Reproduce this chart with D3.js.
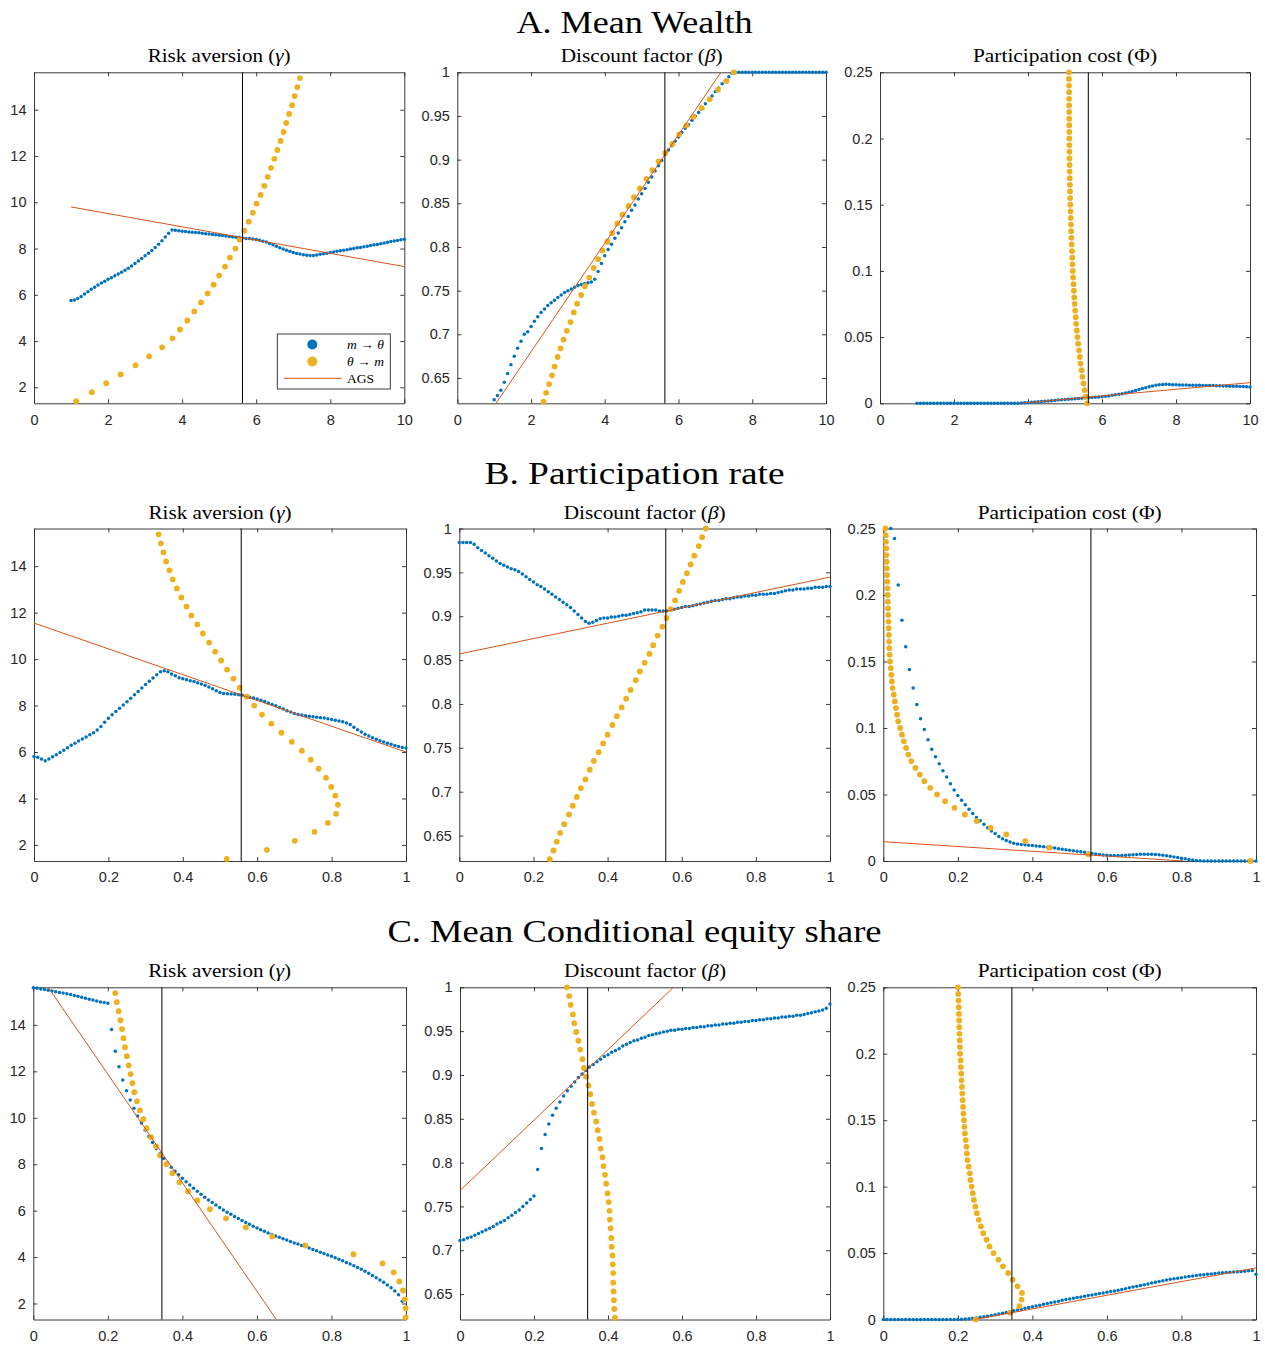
<!DOCTYPE html>
<html>
<head>
<meta charset="utf-8">
<script src="https://cdn.jsdelivr.net/npm/d3@7/dist/d3.min.js"></script>
<style>
  body { margin: 0; background: #fff; }
  svg { display: block; }
</style>
</head>
<body>
<svg id="fig" width="1265" height="1345"></svg>
<script>
// ---------- grids ----------
const gridTen = [
  1.000,1.091,1.182,1.273,1.364,1.455,1.545,1.636,1.727,1.818,1.909,
  2.000,2.091,2.182,2.273,2.364,2.455,2.545,2.636,2.727,2.818,2.909,
  3.000,3.091,3.182,3.273,3.364,3.455,3.545,3.636,3.727,3.818,3.909,
  4.000,4.091,4.182,4.273,4.364,4.455,4.545,4.636,4.727,4.818,4.909,
  5.000,5.091,5.182,5.273,5.364,5.455,5.545,5.636,5.727,5.818,5.909,
  6.000,6.091,6.182,6.273,6.364,6.455,6.545,6.636,6.727,6.818,6.909,
  7.000,7.091,7.182,7.273,7.364,7.455,7.545,7.636,7.727,7.818,7.909,
  8.000,8.091,8.182,8.273,8.364,8.455,8.545,8.636,8.727,8.818,8.909,
  9.000,9.091,9.182,9.273,9.364,9.455,9.545,9.636,9.727,9.818,9.909,
  10.000
];
const gridUnit = [
  0.00,0.01,0.02,0.03,0.04,0.05,0.06,0.07,0.08,0.09,
  0.10,0.11,0.12,0.13,0.14,0.15,0.16,0.17,0.18,0.19,
  0.20,0.21,0.22,0.23,0.24,0.25,0.26,0.27,0.28,0.29,
  0.30,0.31,0.32,0.33,0.34,0.35,0.36,0.37,0.38,0.39,
  0.40,0.41,0.42,0.43,0.44,0.45,0.46,0.47,0.48,0.49,
  0.50,0.51,0.52,0.53,0.54,0.55,0.56,0.57,0.58,0.59,
  0.60,0.61,0.62,0.63,0.64,0.65,0.66,0.67,0.68,0.69,
  0.70,0.71,0.72,0.73,0.74,0.75,0.76,0.77,0.78,0.79,
  0.80,0.81,0.82,0.83,0.84,0.85,0.86,0.87,0.88,0.89,
  0.90,0.91,0.92,0.93,0.94,0.95,0.96,0.97,0.98,0.99,
  1.00
];
const gammaGrid = [1.40,1.79,2.18,2.56,2.95,3.34,3.73,4.12,4.50,4.89,5.28,5.67,6.06,6.44,6.83,7.22,7.61,8.00,8.38,8.77,
  9.16,9.55,9.94,10.32,10.71,11.10,11.49,11.88,12.26,12.65,13.04,13.43,13.82,14.20,14.59,14.98,15.37];
const betaGrid = [0.623,0.633,0.643,0.653,0.663,0.674,0.684,0.694,0.704,0.714,0.725,0.735,0.745,0.755,0.765,0.776,0.786,
  0.796,0.806,0.816,0.827,0.837,0.847,0.857,0.867,0.878,0.888,0.898,0.908,0.918,0.929,0.939,0.949,0.959,0.969,0.980,0.990,1.000];
const phiGrid = [0,0.005,0.010,0.015,0.020,0.025,0.030,0.035,0.040,0.045,0.050,0.055,0.060,0.065,0.070,0.075,0.080,0.085,
  0.090,0.095,0.100,0.105,0.110,0.115,0.120,0.125,0.130,0.135,0.140,0.145,0.150,0.155,0.160,0.165,0.170,0.175,0.180,0.185,
  0.190,0.195,0.200,0.205,0.210,0.215,0.220,0.225,0.230,0.235,0.240,0.245,0.250];

// ---------- A. Mean wealth ----------
const wealthGammaBlue = [
  5.75,5.78,5.84,5.93,6.03,6.13,6.24,6.33,6.42,6.51,
  6.59,6.67,6.74,6.82,6.90,6.98,7.06,7.15,7.25,7.35,
  7.46,7.57,7.69,7.80,7.92,8.05,8.19,8.34,8.50,8.66,
  8.80,8.79,8.77,8.75,8.74,8.72,8.71,8.69,8.68,8.66,
  8.64,8.63,8.61,8.60,8.58,8.56,8.54,8.52,8.50,8.49,
  8.48,8.46,8.44,8.43,8.41,8.39,8.36,8.32,8.28,8.22,
  8.16,8.10,8.04,7.98,7.93,7.88,7.83,7.79,7.76,7.73,
  7.71,7.70,7.70,7.72,7.75,7.78,7.80,7.83,7.85,7.88,
  7.90,7.93,7.95,7.98,8.00,8.03,8.05,8.08,8.10,8.13,
  8.16,8.18,8.21,8.24,8.27,8.30,8.33,8.35,8.38,8.40
];
const wealthGammaYellow = [1.14,1.56,1.95,2.34,2.74,3.11,3.46,3.74,3.94,4.14,4.33,4.51,4.69,4.85,5.00,5.16,5.29,5.44,5.55,
  5.68,5.80,5.91,6.01,6.12,6.22,6.31,6.40,6.49,6.57,6.66,6.74,6.81,6.89,6.97,7.04,7.11,7.18];
const wealthGammaAGS = [[1.0, 9.80], [10.0, 7.22]];

const wealthBetaBlue = [
  0.625,0.630,0.636,0.645,0.655,0.665,0.675,0.684,0.692,0.700,
  0.703,0.709,0.715,0.720,0.725,0.729,0.733,0.736,0.739,0.742,
  0.745,0.748,0.750,0.752,0.754,0.756,0.757,0.758,0.759,0.760,
  0.763,0.772,0.781,0.790,0.797,0.803,0.810,0.816,0.822,0.829,
  0.835,0.842,0.848,0.855,0.861,0.867,0.874,0.880,0.887,0.893,
  0.899,0.906,0.911,0.916,0.921,0.926,0.931,0.936,0.940,0.945,
  0.950,0.954,0.959,0.964,0.969,0.973,0.978,0.982,0.987,0.991,
  0.995,0.999,1,1,1,1,1,1,1,1,
  1,1,1,1,1,1,1,1,1,1,
  1,1,1,1,1,1,1,1,1,1
];
const wealthBetaYellow = [2.34,2.41,2.49,2.57,2.64,2.72,2.80,2.88,2.97,3.07,3.16,3.25,3.36,3.46,3.58,3.70,3.82,3.94,4.07,
  4.20,4.34,4.48,4.64,4.79,4.95,5.13,5.29,5.46,5.64,5.83,6.02,6.21,6.41,6.63,6.84,7.07,7.30,7.50];
const wealthBetaAGS = [[1.05, 0.621], [7.15, 1.0]];

const wealthPhiBlue = [
  0,0,0,0,0,0,0,0,0,0,
  0,0,0,0,0,0,0,0,0,0,
  0,0,0,0,0,0,0,0,0,0,
  0,0.0002,0.0004,0.0006,0.0008,0.0010,0.0012,0.0014,0.0016,0.0018,
  0.0020,0.0022,0.0024,0.0026,0.0028,0.0030,0.0032,0.0034,0.0036,0.0038,
  0.0040,0.0042,0.0044,0.0046,0.0048,0.0050,0.0053,0.0056,0.0060,0.0064,
  0.0068,0.0073,0.0078,0.0084,0.0090,0.0097,0.0104,0.0111,0.0118,0.0125,
  0.0131,0.0136,0.0140,0.0142,0.0143,0.0142,0.0141,0.0140,0.0139,0.0139,
  0.0138,0.0137,0.0137,0.0136,0.0136,0.0135,0.0135,0.0134,0.0134,0.0133,
  0.0132,0.0131,0.0130,0.0129,0.0128,0.0128,0.0127,0.0126,0.0125,0.0124
];
const wealthPhiYellow = [5.60,5.56,5.53,5.50,5.47,5.45,5.42,5.40,5.38,5.355,5.335,5.32,5.30,5.29,5.275,5.26,5.25,5.24,5.23,5.22,
  5.21,5.20,5.195,5.19,5.18,5.173,5.167,5.161,5.155,5.149,5.144,5.140,5.136,5.132,5.129,5.126,5.124,5.122,5.120,5.118,
  5.117,5.116,5.115,5.114,5.113,5.112,5.111,5.110,5.109,5.108,5.108];
const wealthPhiAGS = [[3.78, 0], [10.0, 0.0156]];

// ---------- B. Participation rate ----------
const partGammaBlue = [
  5.81,5.78,5.70,5.62,5.70,5.80,5.88,5.98,6.08,6.18,
  6.29,6.38,6.47,6.56,6.65,6.74,6.83,6.95,7.10,7.28,
  7.45,7.60,7.74,7.88,8.02,8.16,8.31,8.46,8.61,8.76,
  8.91,9.05,9.19,9.33,9.45,9.50,9.45,9.36,9.28,9.20,
  9.15,9.11,9.07,9.03,8.98,8.93,8.87,8.80,8.72,8.64,
  8.56,8.52,8.51,8.50,8.49,8.47,8.44,8.40,8.36,8.32,
  8.28,8.23,8.17,8.11,8.05,7.99,7.92,7.85,7.78,7.72,
  7.66,7.62,7.59,7.56,7.54,7.52,7.50,7.48,7.46,7.43,
  7.40,7.37,7.34,7.30,7.25,7.18,7.07,6.96,6.86,6.77,
  6.69,6.61,6.55,6.49,6.43,6.38,6.33,6.28,6.24,6.20,
  6.17
];
const partGammaYellow = [0.518,0.626,0.701,0.754,0.790,0.812,0.817,0.810,0.799,0.785,0.765,0.744,0.720,0.693,0.665,0.638,
  0.613,0.592,0.572,0.553,0.536,0.519,0.503,0.487,0.471,0.454,0.439,0.423,0.410,0.396,0.384,0.373,0.364,0.355,0.348,0.341,0.335];
const partGammaAGS = [[0, 11.55], [1, 6.00]];

const partBetaBlue = [
  0.984,0.984,0.984,0.984,0.982,0.978,0.975,0.972,0.969,0.966,
  0.963,0.960,0.958,0.956,0.954,0.953,0.951,0.948,0.945,0.942,
  0.939,0.936,0.934,0.931,0.928,0.925,0.922,0.919,0.916,0.913,
  0.910,0.906,0.902,0.898,0.894,0.892,0.893,0.895,0.897,0.898,
  0.898,0.899,0.899,0.900,0.901,0.901,0.902,0.903,0.904,0.905,
  0.907,0.907,0.907,0.907,0.906,0.906,0.906,0.907,0.908,0.909,
  0.910,0.911,0.911,0.912,0.913,0.914,0.915,0.916,0.917,0.918,
  0.918,0.919,0.920,0.920,0.921,0.922,0.922,0.923,0.923,0.924,
  0.924,0.925,0.925,0.925,0.926,0.926,0.927,0.928,0.929,0.930,
  0.930,0.931,0.931,0.931,0.932,0.932,0.933,0.933,0.933,0.934,
  0.934
];
const partBetaYellow = [0.244,0.254,0.263,0.272,0.283,0.296,0.306,0.317,0.328,0.340,0.352,0.363,0.376,0.388,0.400,0.413,
  0.425,0.438,0.450,0.462,0.476,0.487,0.500,0.513,0.523,0.535,0.548,0.559,0.570,0.582,0.593,0.603,0.614,0.624,0.634,0.646,0.655,0.665];
const partBetaAGS = [[0, 0.857], [1, 0.9446]];

const partPhiBlue = [
  null,null,0.250,0.2425,0.2075,0.181,0.161,0.144,0.130,0.1176,
  0.107,0.0989,0.0911,0.0841,0.0784,0.0731,0.0679,0.0631,0.0581,0.0533,
  0.0493,0.0456,0.0423,0.0390,0.0358,0.0328,0.0303,0.0276,0.0250,0.0225,
  0.0206,0.0185,0.0168,0.0155,0.0143,0.0133,0.0128,0.0125,0.0122,0.0119,
  0.0116,0.0113,0.0110,0.0107,0.0104,0.0100,0.0097,0.0093,0.0089,0.0085,
  0.0081,0.0077,0.0073,0.0069,0.0065,0.0061,0.0057,0.0053,0.0049,0.0046,
  0.0044,0.0042,0.0041,0.0041,0.0042,0.0043,0.0045,0.0047,0.0049,0.0050,
  0.0051,0.0051,0.0050,0.0049,0.0047,0.0044,0.0040,0.0036,0.0031,0.0026,
  0.0021,0.0016,0.0011,0.0007,0.0003,0.0001,0,0,0,0,
  0,0,0,0,0,0,0,0,0,0,
  0
];
const partPhiYellow = [0.985,0.550,0.445,0.381,0.330,0.288,0.251,0.219,0.191,0.166,0.144,0.126,0.110,0.098,0.086,0.075,
  0.067,0.061,0.055,0.050,0.045,0.040,0.037,0.034,0.031,0.028,0.025,0.023,0.0215,0.020,0.018,0.017,0.016,0.0155,0.0150,
  0.0144,0.0138,0.0133,0.0127,0.0122,0.0117,0.0112,0.0106,0.0101,0.0096,0.0090,0.0084,0.0078,0.0072,0.0065,0.0055];
const partPhiAGS = [[0, 0.0145], [0.805, 0]];

// ---------- C. Mean conditional equity share ----------
const shareGammaBlue = [
  15.60,15.58,15.55,15.52,15.49,15.46,15.43,15.40,15.37,15.34,
  15.31,15.27,15.23,15.19,15.15,15.11,15.07,15.03,14.99,14.96,
  14.93,13.80,12.87,12.20,11.63,11.16,10.76,10.41,10.08,9.77,
  9.47,9.19,8.93,8.68,8.45,8.24,8.05,7.87,7.70,7.54,
  7.39,7.24,7.10,6.96,6.83,6.70,6.58,6.46,6.35,6.24,
  6.13,6.03,5.93,5.84,5.75,5.66,5.57,5.49,5.41,5.33,
  5.25,5.18,5.11,5.04,4.97,4.91,4.85,4.79,4.73,4.67,
  4.61,4.56,4.50,4.45,4.39,4.33,4.27,4.21,4.15,4.09,
  4.03,3.97,3.91,3.84,3.77,3.70,3.63,3.55,3.47,3.39,
  3.30,3.21,3.11,3.01,2.91,2.80,2.68,2.54,2.38,2.10,
  1.43
];
const shareGammaYellow = [0.999,0.999,0.997,0.992,0.982,0.967,0.937,0.859,0.730,0.641,0.570,0.517,0.474,0.440,0.415,0.392,
  0.373,0.357,0.340,0.329,0.316,0.304,0.295,0.286,0.278,0.271,0.266,0.261,0.256,0.251,0.246,0.242,0.238,0.234,0.229,0.224,0.220];
const shareGammaAGS = [[0.04, 15.62], [0.652, 1.31]];

const shareBetaBlue = [
  0.711,0.712,0.714,0.715,0.717,0.719,0.721,0.723,0.725,0.727,
  0.730,0.732,0.734,0.737,0.740,0.743,0.746,0.750,0.754,0.758,
  0.762,0.792,0.816,0.832,0.844,0.854,0.862,0.869,0.876,0.882,
  0.887,0.892,0.897,0.901,0.905,0.909,0.912,0.915,0.918,0.921,
  0.923,0.926,0.928,0.930,0.933,0.935,0.937,0.939,0.940,0.942,
  0.943,0.945,0.946,0.947,0.948,0.949,0.950,0.951,0.951,0.952,
  0.952,0.953,0.953,0.954,0.954,0.955,0.955,0.956,0.956,0.957,
  0.957,0.958,0.958,0.959,0.959,0.960,0.960,0.961,0.961,0.962,
  0.962,0.963,0.963,0.964,0.964,0.965,0.965,0.966,0.966,0.967,
  0.967,0.968,0.968,0.969,0.970,0.971,0.972,0.973,0.974,0.976,
  0.981
];
const shareBetaYellow = [0.419,0.417,0.416,0.415,0.414,0.414,0.413,0.412,0.410,0.409,0.407,0.405,0.404,0.402,0.399,0.395,
  0.392,0.388,0.385,0.380,0.377,0.372,0.368,0.362,0.357,0.352,0.347,0.341,0.335,0.331,0.325,0.320,0.314,0.309,0.305,0.299,0.295,0.289];
const shareBetaAGS = [[0, 0.768], [0.577, 1.0]];

const sharePhiBlue = [
  0,0,0,0,0,0,0,0,0,0,
  0,0,0,0,0,0,0,0,0,0,
  0,0.0002,0.0004,0.0006,0.0009,0.0012,0.0016,0.0020,0.0025,0.0030,
  0.0036,0.0041,0.0047,0.0053,0.0059,0.0065,0.0071,0.0078,0.0084,0.0090,
  0.0096,0.0102,0.0108,0.0114,0.0120,0.0126,0.0132,0.0138,0.0144,0.0150,
  0.0155,0.0160,0.0165,0.0170,0.0175,0.0180,0.0185,0.0190,0.0195,0.0200,
  0.0205,0.0210,0.0215,0.0220,0.0226,0.0232,0.0238,0.0244,0.0250,0.0256,
  0.0262,0.0268,0.0274,0.0280,0.0286,0.0292,0.0297,0.0302,0.0307,0.0311,
  0.0315,0.0319,0.0323,0.0327,0.0331,0.0334,0.0337,0.0340,0.0343,0.0346,
  0.0349,0.0352,0.0354,0.0356,0.0358,0.0360,0.0362,0.0364,0.0366,0.0368,
  0.0340
];
const sharePhiYellow = [0.248,0.340,0.365,0.371,0.372,0.360,0.347,0.335,0.321,0.309,0.296,0.285,0.277,0.268,0.262,0.256,
  0.251,0.247,0.243,0.240,0.237,0.234,0.232,0.229,0.226,0.2245,0.223,0.221,0.219,0.2175,0.2165,0.215,0.214,0.213,0.212,
  0.211,0.210,0.209,0.208,0.2075,0.206,0.2055,0.205,0.2045,0.204,0.2035,0.203,0.2025,0.202,0.201,0.2005];
const sharePhiAGS = [[0.245, 0], [1.0, 0.0388]];

// calibrated parameter values (vertical reference lines)
const wealthTarget = 5.63;
const partTarget = 0.557;
const shareTarget = 0.345;

// ---------- tick values and labels ----------
const tenTicks = [0, 2, 4, 6, 8, 10];
const tenLabels = ["0", "2", "4", "6", "8", "10"];
const unitTicks = [0, 0.2, 0.4, 0.6, 0.8, 1];
const unitLabels = ["0", "0.2", "0.4", "0.6", "0.8", "1"];
const gammaTicks = [2, 4, 6, 8, 10, 12, 14];
const gammaLabels = ["2", "4", "6", "8", "10", "12", "14"];
const betaTicks = [0.65, 0.7, 0.75, 0.8, 0.85, 0.9, 0.95, 1];
const betaLabels = ["0.65", "0.7", "0.75", "0.8", "0.85", "0.9", "0.95", "1"];
const phiTicks = [0, 0.05, 0.1, 0.15, 0.2, 0.25];
const phiLabels = ["0", "0.05", "0.1", "0.15", "0.2", "0.25"];

const rowTitles = ["A. Mean Wealth", "B. Participation rate", "C. Mean Conditional equity share"];
const legendLabels = ["m → θ", "θ → m", "AGS"];

// ---------- drawing ----------
const C = { blue: "#0072BD", yellow: "#EDB120", orange: "#D95319", axis: "#262626" };
const svg = d3.select("#fig");
const serif = "'Liberation Serif', 'DejaVu Serif', serif";
const sans = "'Liberation Sans', Arial, Helvetica, sans-serif";

const params = {
  gamma: { domain: [1.31, 15.62], ticks: gammaTicks, labels: gammaLabels, yellowY: gammaGrid,
           title: ["Risk aversion (", "γ", ")"], titleLen: 143 },
  beta:  { domain: [0.621, 1], ticks: betaTicks, labels: betaLabels, yellowY: betaGrid,
           title: ["Discount factor (", "β", ")"], titleLen: 162 },
  phi:   { domain: [0, 0.25], ticks: phiTicks, labels: phiLabels, yellowY: phiGrid,
           title: ["Participation cost (Φ)", "", ""], titleLen: 184 }
};

const rows = [
  { title: rowTitles[0], titleY: 33, titleLen: 236, subY: 62, top: 72.3, bottom: 403.3,
    xDomain: [0, 10], xTicks: tenTicks, xLabels: tenLabels, grid: gridTen, target: wealthTarget,
    panels: [
      { left: 34, right: 404.3, p: "gamma", blue: wealthGammaBlue, yellow: wealthGammaYellow, ags: wealthGammaAGS, legend: true },
      { left: 457.3, right: 826, p: "beta", blue: wealthBetaBlue, yellow: wealthBetaYellow, ags: wealthBetaAGS },
      { left: 880, right: 1250, p: "phi", blue: wealthPhiBlue, yellow: wealthPhiYellow, ags: wealthPhiAGS }
    ] },
  { title: rowTitles[1], titleY: 484, titleLen: 300, subY: 518.5, top: 528.5, bottom: 861,
    xDomain: [0, 1], xTicks: unitTicks, xLabels: unitLabels, grid: gridUnit, target: partTarget,
    panels: [
      { left: 34, right: 406, p: "gamma", blue: partGammaBlue, yellow: partGammaYellow, ags: partGammaAGS },
      { left: 459.3, right: 830, p: "beta", blue: partBetaBlue, yellow: partBetaYellow, ags: partBetaAGS },
      { left: 883.3, right: 1256, p: "phi", blue: partPhiBlue, yellow: partPhiYellow, ags: partPhiAGS }
    ] },
  { title: rowTitles[2], titleY: 942, titleLen: 494, subY: 977, top: 987.3, bottom: 1319.5,
    xDomain: [0, 1], xTicks: unitTicks, xLabels: unitLabels, grid: gridUnit, target: shareTarget,
    panels: [
      { left: 33.3, right: 406, p: "gamma", blue: shareGammaBlue, yellow: shareGammaYellow, ags: shareGammaAGS },
      { left: 460, right: 830, p: "beta", blue: shareBetaBlue, yellow: shareBetaYellow, ags: shareBetaAGS },
      { left: 883.3, right: 1256, p: "phi", blue: sharePhiBlue, yellow: sharePhiYellow, ags: sharePhiAGS }
    ] }
];

let clipCount = 0;

function styleAxis(g) {
  g.selectAll("path.domain").attr("stroke", C.axis).attr("stroke-width", 0.9);
  g.selectAll(".tick line").attr("stroke", C.axis).attr("stroke-width", 0.9);
  g.selectAll(".tick text").attr("fill", C.axis).attr("font-family", sans).attr("font-size", 14.5);
}

rows.forEach(row => {
  svg.append("text")
    .attr("x", 634.5).attr("y", row.titleY)
    .attr("text-anchor", "middle")
    .attr("font-family", serif).attr("font-size", 32)
    .attr("textLength", row.titleLen).attr("lengthAdjust", "spacingAndGlyphs")
    .attr("fill", "#000")
    .text(row.title);

  row.panels.forEach(panel => {
    const par = params[panel.p];
    const x = d3.scaleLinear().domain(row.xDomain).range([panel.left, panel.right]);
    const y = d3.scaleLinear().domain(par.domain).range([row.bottom, row.top]);
    const g = svg.append("g");
    const w = panel.right - panel.left, h = row.bottom - row.top;

    const clipId = "clip" + (clipCount++);
    g.append("clipPath").attr("id", clipId)
      .append("rect").attr("x", panel.left).attr("y", row.top).attr("width", w).attr("height", h);

    // subplot title
    const t = g.append("text")
      .attr("x", (panel.left + panel.right) / 2).attr("y", row.subY)
      .attr("text-anchor", "middle")
      .attr("font-family", serif).attr("font-size", 18)
      .attr("textLength", par.titleLen).attr("lengthAdjust", "spacingAndGlyphs")
      .attr("fill", "#000");
    t.append("tspan").text(par.title[0]);
    if (par.title[1]) {
      t.append("tspan").attr("font-style", "italic").text(par.title[1]);
      t.append("tspan").text(par.title[2]);
    }

    // axes on all four sides, ticks pointing inward
    const axB = g.append("g").attr("transform", `translate(0,${row.bottom})`)
      .call(d3.axisBottom(x).tickValues(row.xTicks).tickFormat((d, i) => row.xLabels[i])
        .tickSizeInner(-4).tickSizeOuter(0).tickPadding(11));
    const axT = g.append("g").attr("transform", `translate(0,${row.top})`)
      .call(d3.axisTop(x).tickValues(row.xTicks).tickFormat("").tickSizeInner(-4).tickSizeOuter(0));
    const axL = g.append("g").attr("transform", `translate(${panel.left},0)`)
      .call(d3.axisLeft(y).tickValues(par.ticks).tickFormat((d, i) => par.labels[i])
        .tickSizeInner(-4).tickSizeOuter(0).tickPadding(7.5));
    const axR = g.append("g").attr("transform", `translate(${panel.right},0)`)
      .call(d3.axisRight(y).tickValues(par.ticks).tickFormat("").tickSizeInner(-4).tickSizeOuter(0));
    [axB, axT, axL, axR].forEach(styleAxis);

    const lo = par.domain[0] - 1e-9, hi = par.domain[1] + 1e-9;
    const inY = v => v != null && v >= lo && v <= hi;
    const inX = v => v >= row.xDomain[0] - 1e-9 && v <= row.xDomain[1] + 1e-9;

    // m -> theta : moment grid on x, implied parameter on y
    const bluePts = row.grid.map((gx, i) => [gx, panel.blue[i]]).filter(d => inY(d[1]) && inX(d[0]));
    g.append("g").selectAll("circle").data(bluePts).join("circle")
      .attr("cx", d => x(d[0])).attr("cy", d => y(d[1])).attr("r", 1.75)
      .attr("fill", C.blue);

    // theta -> m : parameter grid on y, implied moment on x
    const yellowPts = par.yellowY.map((py, i) => [panel.yellow[i], py]).filter(d => d[0] != null && inY(d[1]) && inX(d[0]));
    g.append("g").selectAll("circle").data(yellowPts).join("circle")
      .attr("cx", d => x(d[0])).attr("cy", d => y(d[1])).attr("r", 2.9)
      .attr("fill", C.yellow);

    // AGS linear approximation
    g.append("path")
      .attr("clip-path", `url(#${clipId})`)
      .attr("d", d3.line().x(d => x(d[0])).y(d => y(d[1]))(panel.ags))
      .attr("fill", "none").attr("stroke", C.orange).attr("stroke-width", 1);

    // calibrated value
    g.append("line")
      .attr("x1", x(row.target)).attr("x2", x(row.target))
      .attr("y1", row.top).attr("y2", row.bottom)
      .attr("stroke", "#000").attr("stroke-width", 1);

    if (panel.legend) {
      const lg = g.append("g");
      lg.append("rect").attr("x", 277.3).attr("y", 334).attr("width", 113).attr("height", 55)
        .attr("fill", "#fff").attr("stroke", C.axis).attr("stroke-width", 0.9);
      lg.append("circle").attr("cx", 312.3).attr("cy", 344.5).attr("r", 5).attr("fill", C.blue);
      lg.append("circle").attr("cx", 312.3).attr("cy", 361.5).attr("r", 5).attr("fill", C.yellow);
      lg.append("line").attr("x1", 283.7).attr("x2", 341.7).attr("y1", 378.3).attr("y2", 378.3)
        .attr("stroke", C.orange).attr("stroke-width", 1);
      const entry = (yy, parts, len) => {
        const tx = lg.append("text").attr("x", 347).attr("y", yy)
          .attr("font-family", serif).attr("font-size", 13.5).attr("fill", "#000");
        if (len) tx.attr("textLength", len).attr("lengthAdjust", "spacing");
        parts.forEach(([s, it]) => tx.append("tspan").attr("font-style", it ? "italic" : "normal").text(s));
      };
      const l0 = legendLabels[0].split(" "), l1 = legendLabels[1].split(" ");
      entry(348.5, [[l0[0], true], [" " + l0[1] + " ", false], [l0[2], true]], 37);
      entry(365.5, [[l1[0], true], [" " + l1[1] + " ", false], [l1[2], true]], 37);
      entry(382.5, [[legendLabels[2], false]]);
    }
  });
});
</script>
</body>
</html>
